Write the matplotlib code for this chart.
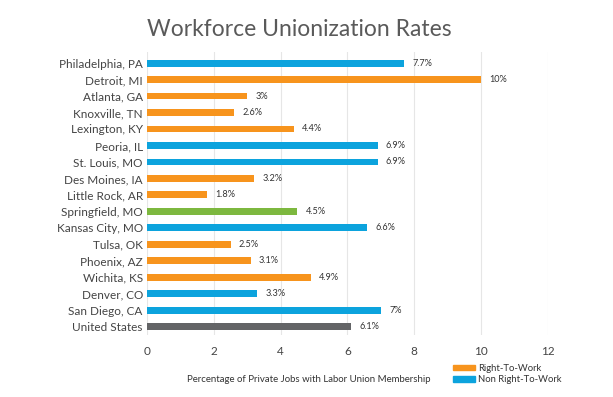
import matplotlib
matplotlib.use("Agg")
import matplotlib.pyplot as plt
from matplotlib.patches import Patch

plt.rcParams["font.family"] = ["Lato", "DejaVu Sans"]

cities = ["Philadelphia, PA", "Detroit, MI", "Atlanta, GA", "Knoxville, TN",
          "Lexington, KY", "Peoria, IL", "St. Louis, MO", "Des Moines, IA",
          "Little Rock, AR", "Springfield, MO", "Kansas City, MO", "Tulsa, OK",
          "Phoenix, AZ", "Wichita, KS", "Denver, CO", "San Diego, CA",
          "United States"]
rates = [7.7, 10, 3, 2.6, 4.4, 6.9, 6.9, 3.2, 1.8, 4.5, 6.6, 2.5, 3.1, 4.9,
         3.3, 7, 6.1]
labels = ["7.7%", "10%", "3%", "2.6%", "4.4%", "6.9%", "6.9%", "3.2%", "1.8%",
          "4.5%", "6.6%", "2.5%", "3.1%", "4.9%", "3.3%", "7%", "6.1%"]
groups = ["non", "rtw", "rtw", "rtw", "rtw", "non", "non", "rtw", "rtw",
          "springfield", "non", "rtw", "rtw", "rtw", "non", "non", "us"]

palette = {"rtw": "#F7941D", "non": "#0CA3DD", "springfield": "#7DB83F",
           "us": "#636466"}

fig = plt.figure(figsize=(6.13, 3.97), dpi=100)
ax = fig.add_axes([0.2398, 0.156, 0.654, 0.713])

y = list(range(len(cities)))
ax.barh(y, rates, height=0.42, color=[palette[g] for g in groups], zorder=3)
for yi, v, lab in zip(y, rates, labels):
    ax.text(v + 0.25, yi, lab, va="center", ha="left", fontsize=6.6,
            color="#333333")

ax.set_yticks(y)
ax.set_yticklabels(cities, fontsize=8.5, color="#444444")
ax.set_ylim(len(cities) - 0.5, -0.67)
ax.set_xlim(0, 12)
ax.set_xticks(range(0, 13, 2))
ax.tick_params(axis="x", labelsize=8.5, colors="#444444", length=0, pad=8)
ax.tick_params(axis="y", length=0, pad=3)
ax.grid(axis="x", color="#e6e6e6", lw=0.8, zorder=0)
for s in ax.spines.values():
    s.set_visible(False)

fig.text(0.503, 0.045, "Percentage of Private Jobs with Labor Union Membership",
         ha="center", va="center", fontsize=6.9, color="#333333")
fig.text(0.489, 0.925, "Workforce Unionization Rates", ha="center", va="center",
         fontsize=16.5, color="#5a5a5a")

handles = [Patch(color=palette["rtw"], label="Right-To-Work"),
           Patch(color=palette["non"], label="Non Right-To-Work")]
fig.legend(handles=handles, loc="center left", bbox_to_anchor=(0.725, 0.058),
           frameon=False, fontsize=6.8, handlelength=2.3, handleheight=0.5,
           labelspacing=0.3, handletextpad=0.4, labelcolor="#333333")

fig.savefig("out.png", dpi=100)
